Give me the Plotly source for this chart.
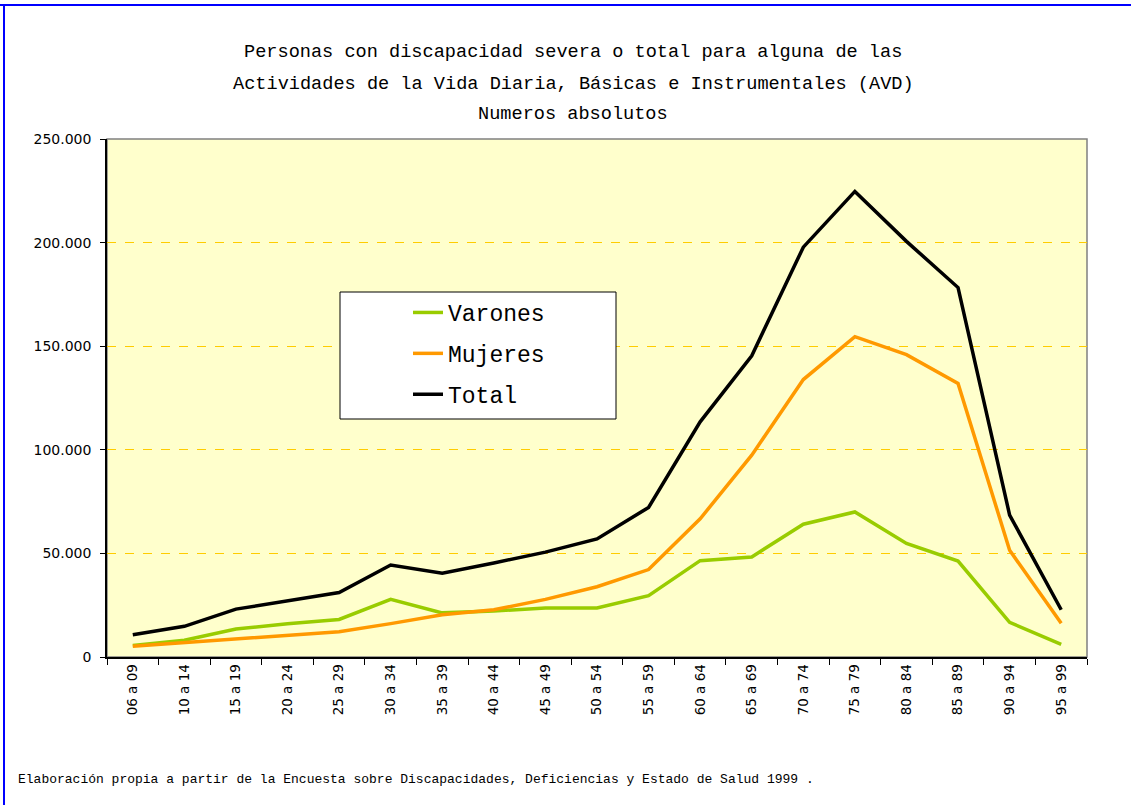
import plotly.graph_objects as go

categories = ["06 a 09", "10 a 14", "15 a 19", "20 a 24", "25 a 29", "30 a 34", "35 a 39",
              "40 a 44", "45 a 49", "50 a 54", "55 a 59", "60 a 64", "65 a 69", "70 a 74",
              "75 a 79", "80 a 84", "85 a 89", "90 a 94", "95 a 99"]
varones = [5600, 8100, 13500, 16100, 18100, 27800, 21300, 22200, 23700, 23700,
           29600, 46500, 48300, 64100, 70000, 54800, 46300, 16700, 6100]
mujeres = [5200, 7000, 8900, 10600, 12200, 16100, 20400, 22800, 27800, 33900,
           42200, 66700, 97400, 133900, 154600, 145900, 132000, 51500, 16300]
total = [10700, 14800, 23100, 27000, 31100, 44400, 40400, 45400, 50600, 57000,
         72200, 113500, 145400, 197800, 224700, 200600, 178300, 68500, 22800]
y_ticks = [0, 50000, 100000, 150000, 200000, 250000]

title_lines = ["Personas con discapacidad severa o total para alguna de las",
               "Actividades de la Vida Diaria, Básicas e Instrumentales (AVD)",
               "Numeros absolutos"]
footer = "Elaboración propia a partir de la Encuesta sobre Discapacidades, Deficiencias y Estado de Salud 1999 ."

W, H = 1131, 805
L, R, T, B = 107, 1087, 139, 657

fig = go.Figure()
series = [("Varones", varones, "#99CC00"), ("Mujeres", mujeres, "#FF9900"), ("Total", total, "#000000")]
for name, vals, col in series:
    fig.add_trace(go.Scatter(x=categories, y=vals, name=name, mode="lines",
                             line=dict(color=col, width=3.5), legendgroup=name))

mono = "Liberation Mono"
annotations = []
for txt, yc in zip(title_lines, [52, 84, 114]):
    annotations.append(dict(text=txt, xref="paper", yref="paper",
                            x=(573 - L) / (R - L), y=(B - yc) / (B - T),
                            xanchor="center", yanchor="middle", showarrow=False,
                            font=dict(family=mono, size=18.6, color="#000000")))
annotations.append(dict(text=footer, xref="paper", yref="paper",
                        x=(16 - L) / (R - L), y=(B - 779) / (B - T),
                        xanchor="left", yanchor="middle", showarrow=False,
                        font=dict(family=mono, size=13, color="#000000")))

shapes = [
    dict(type="rect", xref="x domain", yref="y domain", x0=0, x1=1, y0=0, y1=1,
         fillcolor="#FFFFCC", line=dict(color="#808080", width=1.5), layer="below"),
    dict(type="rect", xref="paper", yref="paper",
         x0=(340 - L) / (R - L), x1=(616 - L) / (R - L),
         y0=(B - 419) / (B - T), y1=(B - 292) / (B - T),
         fillcolor="#FFFFFF", line=dict(color="#000000", width=1), layer="above"),
    dict(type="line", xref="paper", yref="paper",
         x0=(0 - L) / (R - L), x1=(W - L) / (R - L),
         y0=(B - 5) / (B - T), y1=(B - 5) / (B - T),
         line=dict(color="#0000FF", width=2)),
    dict(type="line", xref="paper", yref="paper",
         x0=(4 - L) / (R - L), x1=(4 - L) / (R - L),
         y0=(B - 5) / (B - T), y1=(B - H) / (B - T),
         line=dict(color="#0000FF", width=2)),
]

fig.update_layout(
    width=W, height=H,
    margin=dict(l=L, r=W - R, t=T, b=H - B, autoexpand=False),
    paper_bgcolor="#FFFFFF", plot_bgcolor="#FFFFCC",
    separators=",.",
    showlegend=True,
    legend=dict(x=(408 - L) / (R - L), y=(B - 291) / (B - T), xanchor="left", yanchor="top",
                bgcolor="rgba(0,0,0,0)", borderwidth=0, tracegroupgap=8,
                font=dict(family=mono, size=23, color="#000000")),
    annotations=annotations,
    shapes=shapes,
    xaxis=dict(type="category", range=[-0.5, len(categories) - 0.5],
               tickangle=-90, ticks="outside", ticklen=6, tickcolor="#000000",
               tickson="boundaries", showline=True, linecolor="#000000", linewidth=1.5,
               showgrid=False, zeroline=False,
               tickfont=dict(family="DejaVu Sans", size=13.5, color="#000000")),
    yaxis=dict(range=[0, 250000], tickvals=y_ticks, tickformat=",d",
               ticks="outside", ticklen=5, tickcolor="#000000",
               showline=True, linecolor="#000000", linewidth=1.5,
               showgrid=True, gridcolor="#FFCC00", griddash="dash", gridwidth=1,
               zeroline=False, ticklabelstandoff=6,
               tickfont=dict(family="DejaVu Sans", size=14, color="#000000")),
)

fig.write_html("out.html", config={"displayModeBar": False},
               post_script="document.body.style.margin='0';")
